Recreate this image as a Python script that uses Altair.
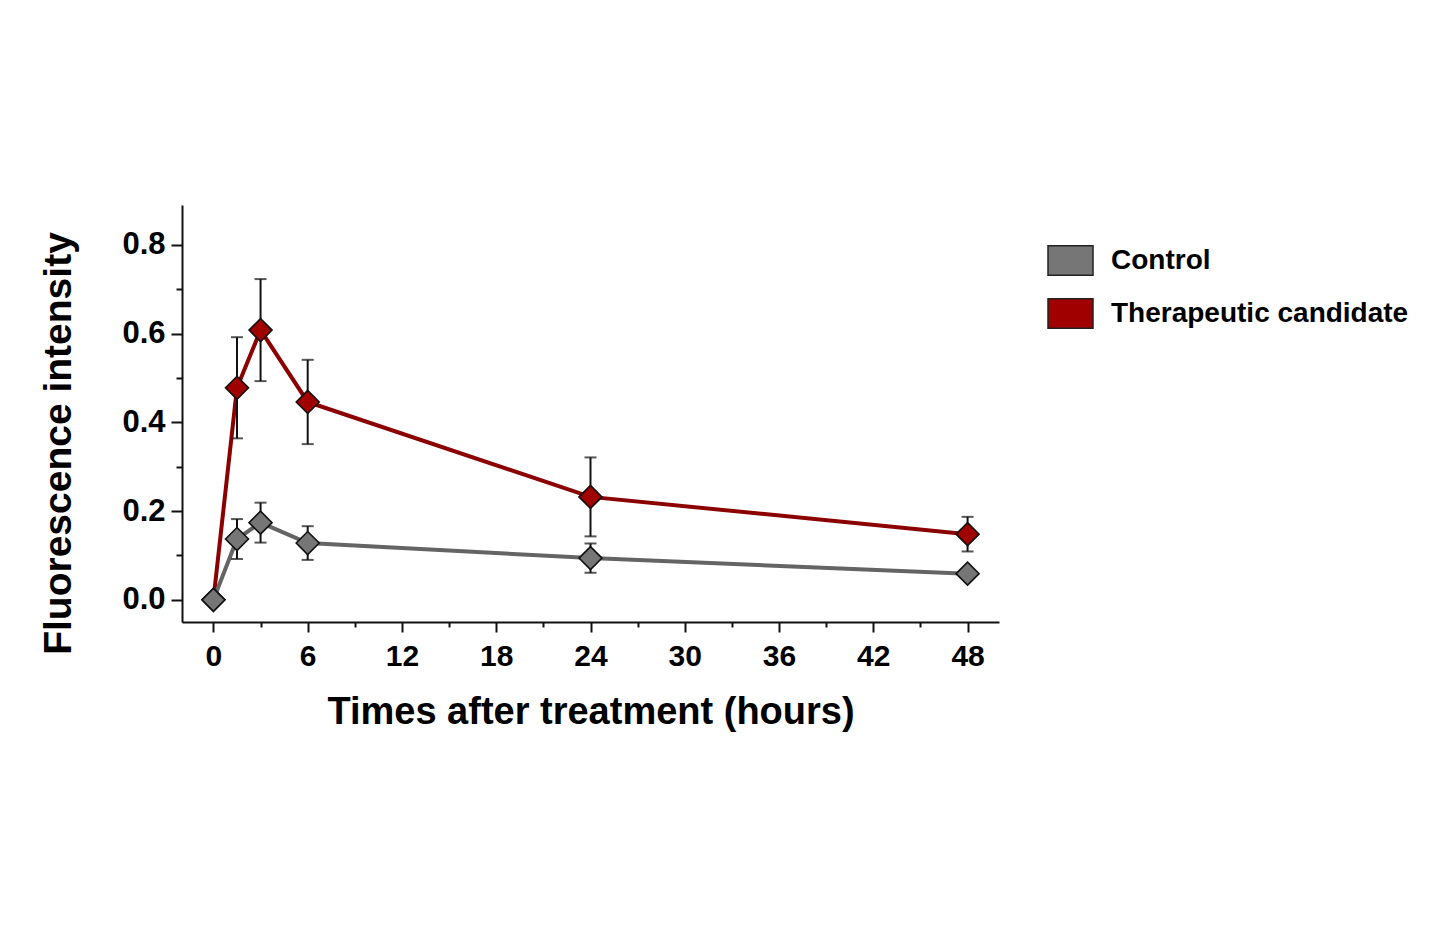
import altair as alt
import pandas as pd

# Sampling times (hours after treatment)
time_h = [0, 1.5, 3, 6, 24, 48]

# Mean fluorescence intensity and error (±) per group
control_mean = [0.0, 0.137, 0.174, 0.128, 0.094, 0.059]
control_err = [0.0, 0.045, 0.045, 0.038, 0.033, 0.0]
candidate_mean = [0.0, 0.478, 0.608, 0.446, 0.232, 0.148]
candidate_err = [0.0, 0.114, 0.115, 0.095, 0.089, 0.039]

groups = ["Control", "Therapeutic candidate"]
line_colors = ["#646464", "#8b0000"]
fill_colors = ["#767676", "#a00000"]

x_ticks = [0, 3, 6, 9, 12, 15, 18, 21, 24, 27, 30, 33, 36, 39, 42, 45, 48]
y_ticks = [0.0, 0.1, 0.2, 0.3, 0.4, 0.5, 0.6, 0.7, 0.8]

rows = []
for name, means, errs in [
    ("Therapeutic candidate", candidate_mean, candidate_err),
    ("Control", control_mean, control_err),
]:
    for t, m, e in zip(time_h, means, errs):
        rows.append({"group": name, "time": t, "mean": m, "err": e})
df = pd.DataFrame(rows)

FONT = "Liberation Sans"

x_enc = alt.X(
    "time:Q",
    scale=alt.Scale(domain=[-2, 50], nice=False, zero=False),
    axis=alt.Axis(
        values=x_ticks,
        labelExpr="datum.value % 6 === 0 ? datum.label : ''",
        tickSize={"condition": {"test": "datum.value % 6 === 0", "value": 10}, "value": 5},
        title="Times after treatment (hours)",
        titleFontSize=38,
        titleFont=FONT,
        titleFontWeight="bold",
        titleColor="black",
        titleBaseline="alphabetic",
        titleY=101,
        labelFontSize=30,
        labelFont=FONT,
        labelFontWeight="bold",
        labelColor="black",
        labelPadding=9,
        domainColor="#111111",
        domainWidth=2,
        tickColor="#111111",
        tickWidth=2,
        grid=False,
    ),
)

y_enc = alt.Y(
    "mean:Q",
    scale=alt.Scale(domain=[-0.05, 0.89], nice=False, zero=False),
    axis=alt.Axis(
        values=y_ticks,
        format=".1f",
        labelExpr="round(datum.value * 10) % 2 === 0 ? datum.label : ''",
        tickSize={"condition": {"test": "round(datum.value * 10) % 2 === 0", "value": 11}, "value": 6},
        title="Fluorescence intensity",
        titleFontSize=39,
        titleFont=FONT,
        titleFontWeight="bold",
        titleColor="black",
        titleBaseline="alphabetic",
        titleAlign="center",
        titleX=-112,
        titleY=238,
        labelFontSize=31,
        labelFont=FONT,
        labelFontWeight="bold",
        labelColor="black",
        labelPadding=6,
        domainColor="#111111",
        domainWidth=2,
        tickColor="#111111",
        tickWidth=2,
        grid=False,
    ),
)

base = alt.Chart(df)

lines = base.mark_line(strokeWidth=4).encode(
    x=x_enc,
    y=y_enc,
    color=alt.Color("group:N", scale=alt.Scale(domain=groups, range=line_colors), legend=None),
    detail="group:N",
)

with_err = base.transform_filter("datum.err > 0").transform_calculate(
    lo="datum.mean - datum.err", hi="datum.mean + datum.err"
)

err_rules = with_err.mark_rule(color="#111111", strokeWidth=2).encode(
    x="time:Q", y="lo:Q", y2="hi:Q"
)
err_caps_hi = with_err.mark_tick(color="#111111", thickness=2, size=12, orient="horizontal").encode(
    x="time:Q", y="hi:Q"
)
err_caps_lo = with_err.mark_tick(color="#111111", thickness=2, size=12, orient="horizontal").encode(
    x="time:Q", y="lo:Q"
)

points = base.mark_point(
    shape="diamond", filled=True, size=529, stroke="#111111", strokeWidth=1.6, opacity=1
).encode(
    x="time:Q",
    y="mean:Q",
    fill=alt.Fill(
        "group:N",
        scale=alt.Scale(domain=groups, range=fill_colors),
        legend=alt.Legend(
            title=None,
            orient="none",
            legendX=865,
            legendY=32,
            symbolType="M-1,-0.66L1,-0.66L1,0.66L-1,0.66Z",
            symbolSize=2025,
            symbolStrokeColor="#222222",
            symbolStrokeWidth=1.5,
            symbolOpacity=1,
            labelFont=FONT,
            labelFontSize=28,
            labelFontWeight="bold",
            labelColor="black",
            labelOffset=17,
            labelLimit=0,
            rowPadding=11,
            padding=0,
        ),
    ),
)

chart = (
    alt.layer(lines, err_rules, err_caps_hi, err_caps_lo, points)
    .resolve_scale(color="independent", fill="independent")
    .properties(
        width=817,
        height=417,
        autosize=alt.AutoSizeParams(type="none"),
        padding={"left": 182, "top": 205, "right": 433, "bottom": 314},
        background="white",
    )
    .configure_view(stroke=None)
)

chart.save("out.html", embed_options={"renderer": "svg", "actions": False})
